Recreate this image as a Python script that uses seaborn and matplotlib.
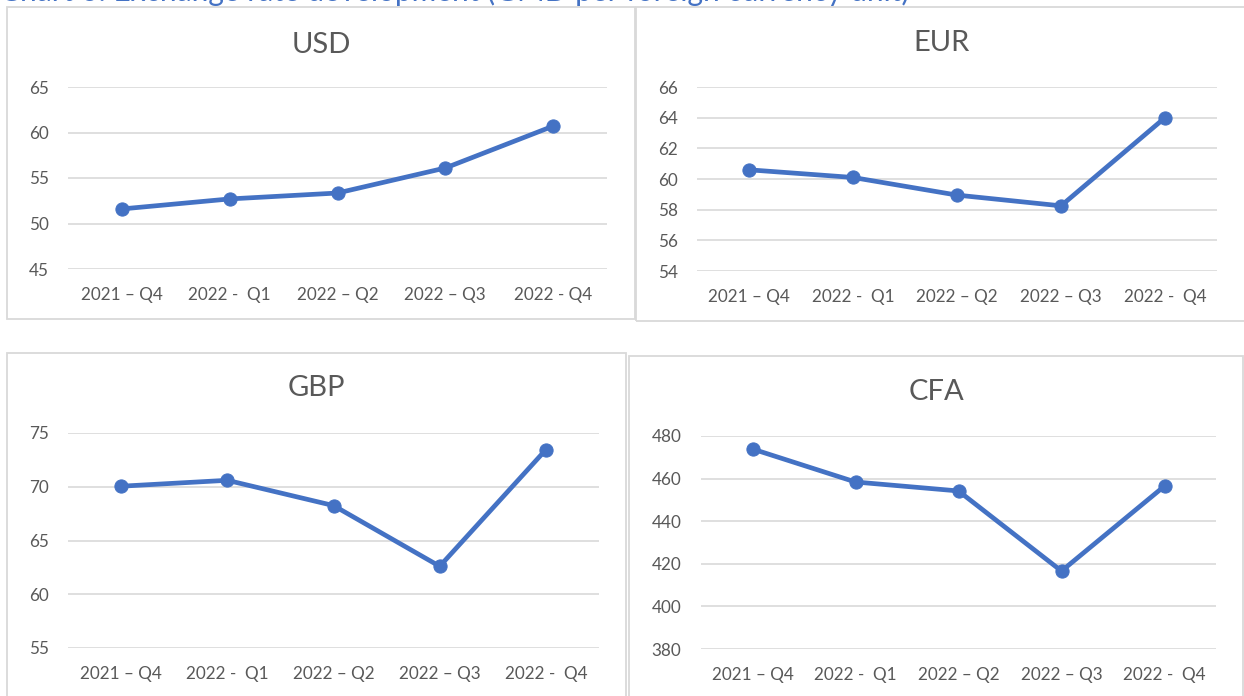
import matplotlib
matplotlib.use("Agg")
import matplotlib.pyplot as plt
import seaborn as sns
import pandas as pd
from matplotlib.patches import Rectangle

sns.set_theme(style="white")
plt.rcParams['font.family'] = ['Lato', 'DejaVu Sans']

# ---- data ----
quarters = ["2021 – Q4", "2022 - Q1", "2022 – Q2", "2022 – Q3", "2022 - Q4"]
labels_usd = ["2021 – Q4", "2022 -  Q1", "2022 – Q2", "2022 – Q3", "2022 - Q4"]
labels_other = ["2021 – Q4", "2022 -  Q1", "2022 – Q2", "2022 – Q3", "2022 -  Q4"]
usd = [51.6, 52.7, 53.35, 56.1, 60.7]
eur = [60.6, 60.1, 58.95, 58.25, 64.0]
gbp = [70.05, 70.6, 68.25, 62.6, 73.45]
cfa = [473.9, 458.4, 454.2, 416.6, 456.5]
usd_ticks = [45, 50, 55, 60, 65]
eur_ticks = [54, 56, 58, 60, 62, 64, 66]
gbp_ticks = [55, 60, 65, 70, 75]
cfa_ticks = [380, 400, 420, 440, 460, 480]

W, H = 1244, 696
fig = plt.figure(figsize=(W / 100, H / 100), dpi=100)

LINE = "#4472C4"
GRID = "#D9D9D9"
TXT = "#595959"


def fx(px):
    return px / W


def fy(py):
    return 1 - py / H


def panel_box(x0, y0, x1, y1):
    r = Rectangle((fx(x0), fy(y1)), fx(x1 - x0), (y1 - y0) / H,
                  transform=fig.transFigure, fill=False,
                  edgecolor="#D9D9D9", linewidth=1.3, zorder=0)
    fig.patches.append(r)


def make_axes(x0, x1, ytop, ybot):
    return fig.add_axes([fx(x0), fy(ybot), fx(x1 - x0), (ybot - ytop) / H])


def draw(ax, values, ticks, labels, title, tx, ty):
    df = pd.DataFrame({"q": quarters, "v": values})
    df["q"] = pd.Categorical(df["q"], categories=quarters, ordered=True)
    sns.lineplot(data=df, x="q", y="v", ax=ax, color=LINE, linewidth=3.4,
                 marker="o", markersize=9.5, markeredgecolor=LINE,
                 markerfacecolor=LINE, sort=False, zorder=3)
    ax.set_xlim(-0.5, len(quarters) - 0.5)
    ax.set_ylim(ticks[0], ticks[-1])
    ax.set_yticks(ticks)
    ax.set_xticks(range(len(quarters)))
    ax.set_xticklabels(labels)
    ax.set_xlabel("")
    ax.set_ylabel("")
    ax.grid(axis="y", color=GRID, linewidth=1.2)
    ax.set_axisbelow(True)
    for s in ax.spines.values():
        s.set_visible(False)
    ax.tick_params(axis="both", length=0, colors=TXT, labelsize=12.3)
    ax.tick_params(axis="y", pad=14)
    ax.tick_params(axis="x", pad=13)
    ax.patch.set_alpha(0)
    fig.text(fx(tx), fy(ty), title, ha="center", va="center",
             fontsize=21, color=TXT)


# panel borders
panel_box(7, 7, 635, 319)
panel_box(636, 7, 1250, 321)
panel_box(7, 353, 626, 710)
panel_box(629, 356, 1243, 710)

# top-left USD
ax1 = make_axes(68, 607, 87, 269)
draw(ax1, usd, usd_ticks, labels_usd, "USD", 321, 45)

# top-right EUR
ax2 = make_axes(697, 1217, 87, 271)
draw(ax2, eur, eur_ticks, labels_other, "EUR", 942, 43)

# bottom-left GBP
ax3 = make_axes(68, 599, 433, 648)
draw(ax3, gbp, gbp_ticks, labels_other, "GBP", 316, 388)

# bottom-right CFA
ax4 = make_axes(701, 1216, 436, 649)
draw(ax4, cfa, cfa_ticks, labels_other, "CFA", 937, 392)

# cut-off chart caption at the very top
fig.text(0.0, fy(1.5), "Chart 6: Exchange rate development (GMD per foreign currency unit)",
         ha="left", va="baseline", fontsize=21.5, color="#4472C4")

fig.savefig("out.png", dpi=100)
